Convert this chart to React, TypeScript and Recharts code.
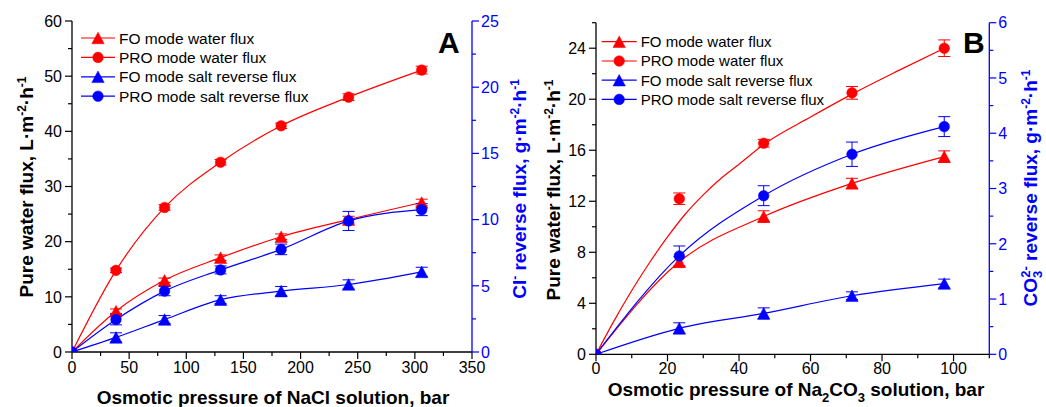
import React from 'react';
import { ComposedChart, Line, XAxis, YAxis, ErrorBar } from 'recharts';

const FONT = '"Liberation Sans", Arial, Helvetica, sans-serif';
const RED = '#ff0000';
const BLUE = '#0000ff';
const BLACK = '#000000';

// ---------- Panel A (NaCl) ----------
const xA = [0, 38.5, 81, 130, 183, 242, 306];
const foWaterA = [0, 7.4, 13.0, 17.1, 20.9, 24.0, 27.1];
const foWaterErrA = [0, 0.4, 0.4, 0.5, 0.5, 0.6, 0.6];
const proWaterA = [0, 14.8, 26.2, 34.4, 41.0, 46.2, 51.1];
const proWaterErrA = [0, 0.4, 0.5, 0.5, 0.5, 0.6, 0.7];
const foSaltA = [0, 1.1, 2.45, 3.95, 4.6, 5.1, 6.05];
const foSaltErrA = [0, 0.35, 0.3, 0.3, 0.35, 0.35, 0.35];
const proSaltA = [0, 2.45, 4.6, 6.2, 7.75, 9.9, 10.75];
const proSaltErrA = [0, 0.4, 0.35, 0.3, 0.4, 0.72, 0.45];

const ticksXA = [0, 25, 50, 75, 100, 125, 150, 175, 200, 225, 250, 275, 300, 325, 350];
const majorXA = [0, 50, 100, 150, 200, 250, 300, 350];
const ticksYLA = [0, 5, 10, 15, 20, 25, 30, 35, 40, 45, 50, 55, 60];
const majorYLA = [0, 10, 20, 30, 40, 50, 60];
const ticksYRA = [0, 2.5, 5, 7.5, 10, 12.5, 15, 17.5, 20, 22.5, 25];
const majorYRA = [0, 5, 10, 15, 20, 25];

// ---------- Panel B (Na2CO3) ----------
const xB = [0, 23.3, 46.9, 71.6, 97.4];
const foWaterB = [0, 7.25, 10.8, 13.4, 15.5];
const foWaterErrB = [0, 0.4, 0.45, 0.4, 0.45];
const proWaterB = [0, 12.2, 16.55, 20.5, 24.0];
const proWaterErrB = [0, 0.45, 0.3, 0.5, 0.65];
const proFitXB = [0, 5, 10, 15, 20, 25, 30, 35, 40, 46.9, 60, 71.6, 85, 97.4];
const proFitYB = [0, 2.6, 5.0, 7.2, 9.2, 11.0, 12.5, 13.8, 14.9, 16.45, 18.6, 20.4, 22.3, 24.0];
const foSaltB = [0, 0.47, 0.74, 1.06, 1.28];
const foSaltErrB = [0, 0.1, 0.1, 0.07, 0.08];
const proSaltB = [0, 1.78, 2.87, 3.62, 4.12];
const proSaltErrB = [0, 0.18, 0.18, 0.22, 0.18];

const ticksXB = [0, 10, 20, 30, 40, 50, 60, 70, 80, 90, 100, 110];
const majorXB = [0, 20, 40, 60, 80, 100];
const ticksYLB = [0, 2, 4, 6, 8, 10, 12, 14, 16, 18, 20, 22, 24, 26];
const majorYLB = [0, 4, 8, 12, 16, 20, 24];
const ticksYRB = [0, 0.5, 1, 1.5, 2, 2.5, 3, 3.5, 4, 4.5, 5, 5.5, 6];
const majorYRB = [0, 1, 2, 3, 4, 5, 6];

const legendNames = ['FO mode water flux', 'PRO mode water flux', 'FO mode salt reverse flux', 'PRO mode salt reverse flux'];
const legendColors = [RED, RED, BLUE, BLUE];
const legendShapes = ['triangle', 'circle', 'triangle', 'circle'];

const toSeries = (xs: number[], ys: number[], es?: number[]) =>
  xs.map((x, i) => ({ x, y: ys[i], e: es ? es[i] : 0 }));

function Marker({ shape, cx, cy, color }: { shape: string; cx: number; cy: number; color: string }) {
  if (shape === 'triangle') {
    const w = 6.2;
    const h = 5.8;
    return <polygon points={`${cx},${cy - h} ${cx - w},${cy + h} ${cx + w},${cy + h}`} fill={color} stroke={color} strokeWidth={0.5} />;
  }
  return <circle cx={cx} cy={cy} r={5.3} fill={color} stroke={color} strokeWidth={0.5} />;
}

const dotFn = (shape: string, color: string) => (props: any) => {
  const { cx, cy, index } = props;
  if (cx == null || cy == null) return <g key={`d${index}`} />;
  return (
    <g key={`d${shape}${index}`}>
      <Marker shape={shape} cx={cx} cy={cy} color={color} />
    </g>
  );
};

const isMajor = (majors: number[], v: number) => majors.some((m) => Math.abs(m - v) < 1e-9);

const makeTick = (orient: string, majors: number[], color: string, labels: boolean, labelGap = 21) => (props: any) => {
  const { x, y, payload, index } = props;
  const v = payload.value;
  const major = isMajor(majors, v);
  const len = major ? 7 : 4;
  const sw = 1.2;
  let line: any = null;
  let text: any = null;
  if (orient === 'left') {
    line = <line x1={x - len} y1={y} x2={x} y2={y} stroke={color} strokeWidth={sw} />;
    if (labels && major)
      text = (
        <text x={x - 10} y={y} dy="0.36em" textAnchor="end" fontSize={16} fontFamily={FONT} fill={color}>
          {v}
        </text>
      );
  } else if (orient === 'right') {
    line = <line x1={x} y1={y} x2={x + len} y2={y} stroke={color} strokeWidth={sw} />;
    if (labels && major)
      text = (
        <text x={x + 9} y={y} dy="0.36em" textAnchor="start" fontSize={16} fontFamily={FONT} fill={color}>
          {v}
        </text>
      );
  } else if (orient === 'bottom') {
    line = <line x1={x} y1={y} x2={x} y2={y + len} stroke={color} strokeWidth={sw} />;
    if (labels && major)
      text = (
        <text x={x} y={y + labelGap} textAnchor="middle" fontSize={16} fontFamily={FONT} fill={color}>
          {v}
        </text>
      );
  } else {
    line = <line x1={x} y1={y} x2={x} y2={y + len} stroke={color} strokeWidth={sw} />;
  }
  return (
    <g key={`t${orient}${index}`}>
      {line}
      {text}
    </g>
  );
};

function Legend4({ lineX1, lineX2, textX, rowY, fontSize }: { lineX1: number; lineX2: number; textX: number; rowY: number[]; fontSize: number }) {
  const mx = (lineX1 + lineX2) / 2;
  return (
    <g>
      {legendNames.map((name, i) => (
        <g key={name}>
          <line x1={lineX1} y1={rowY[i]} x2={lineX2} y2={rowY[i]} stroke={legendColors[i]} strokeWidth={1.2} />
          <Marker shape={legendShapes[i]} cx={mx} cy={rowY[i]} color={legendColors[i]} />
          <text x={textX} y={rowY[i]} dy="0.36em" fontSize={fontSize} fontFamily={FONT} fill={BLACK}>
            {name}
          </text>
        </g>
      ))}
    </g>
  );
}

const lineProps = { type: 'monotone' as const, strokeWidth: 1.2, isAnimationActive: false, activeDot: false as const };
const ebProps = { dataKey: 'e', width: 6, strokeWidth: 1, direction: 'y' as const };

function PanelA() {
  return (
    <ComposedChart width={545} height={407} margin={{ top: 21, right: 25, bottom: 0, left: 0 }}>
      <XAxis xAxisId="b" dataKey="x" type="number" domain={[0, 350]} ticks={ticksXA} interval={0} height={55}
        tickSize={0} tickMargin={0} tickLine={false} axisLine={{ stroke: BLACK, strokeWidth: 1.3 }}
        tick={makeTick('bottom', majorXA, BLACK, true, 21)} allowDataOverflow />
      <XAxis xAxisId="t" orientation="top" dataKey="x" type="number" domain={[0, 350]} ticks={ticksXA} interval={0} height={0}
        tickSize={0} tickMargin={0} tickLine={false} axisLine={{ stroke: BLACK, strokeWidth: 1.3 }}
        tick={makeTick('top', majorXA, BLACK, false)} allowDataOverflow />
      <YAxis yAxisId="l" type="number" domain={[0, 60]} ticks={ticksYLA} interval={0} width={72}
        tickSize={0} tickMargin={0} tickLine={false} axisLine={{ stroke: BLACK, strokeWidth: 1.3 }}
        tick={makeTick('left', majorYLA, BLACK, true)} allowDataOverflow />
      <YAxis yAxisId="r" orientation="right" type="number" domain={[0, 25]} ticks={ticksYRA} interval={0} width={48}
        tickSize={0} tickMargin={0} tickLine={false} axisLine={{ stroke: BLUE, strokeWidth: 1.3 }}
        tick={makeTick('right', majorYRA, BLUE, true)} allowDataOverflow />

      <Line {...lineProps} xAxisId="b" yAxisId="l" data={toSeries(xA, foWaterA, foWaterErrA)} dataKey="y" stroke={RED} dot={dotFn('triangle', RED)}>
        <ErrorBar {...ebProps} stroke={RED} />
      </Line>
      <Line {...lineProps} xAxisId="b" yAxisId="l" data={toSeries(xA, proWaterA, proWaterErrA)} dataKey="y" stroke={RED} dot={dotFn('circle', RED)}>
        <ErrorBar {...ebProps} stroke={RED} />
      </Line>
      <Line {...lineProps} xAxisId="b" yAxisId="r" data={toSeries(xA, foSaltA, foSaltErrA)} dataKey="y" stroke={BLUE} dot={dotFn('triangle', BLUE)}>
        <ErrorBar {...ebProps} stroke={BLUE} />
      </Line>
      <Line {...lineProps} xAxisId="b" yAxisId="r" data={toSeries(xA, proSaltA, proSaltErrA)} dataKey="y" stroke={BLUE} dot={dotFn('circle', BLUE)}>
        <ErrorBar {...ebProps} stroke={BLUE} />
      </Line>

      <Legend4 lineX1={81} lineX2={115} textX={119} rowY={[38, 57.4, 76.8, 96.2]} fontSize={15.5} />
      <text x={438} y={53} fontSize={30} fontWeight="bold" fontFamily={FONT} fill={BLACK}>A</text>

      <text x={273} y={404} textAnchor="middle" fontSize={19} fontWeight="bold" fontFamily={FONT} fill={BLACK}>
        Osmotic pressure of NaCl solution, bar
      </text>
      <text transform="translate(33,187) rotate(-90)" textAnchor="middle" fontSize={19} fontWeight="bold" fontFamily={FONT} fill={BLACK}>
        Pure water flux, L·m<tspan dy={-7} fontSize={12}>-2</tspan><tspan dy={7}>·h</tspan><tspan dy={-7} fontSize={12}>-1</tspan>
      </text>
      <text transform="translate(526,189) rotate(-90)" textAnchor="middle" fontSize={19} fontWeight="bold" fontFamily={FONT} fill={BLUE}>
        Cl<tspan dy={-7} fontSize={12}>-</tspan><tspan dy={7}> reverse flux, g·m</tspan><tspan dy={-7} fontSize={12}>-2</tspan><tspan dy={7}>·h</tspan><tspan dy={-7} fontSize={12}>-1</tspan>
      </text>
    </ComposedChart>
  );
}

function PanelB() {
  return (
    <ComposedChart width={526} height={407} margin={{ top: 22.7, right: 0, bottom: 0, left: 0 }}>
      <XAxis xAxisId="b" dataKey="x" type="number" domain={[0, 110]} ticks={ticksXB} interval={0} height={52.7}
        tickSize={0} tickMargin={0} tickLine={false} axisLine={{ stroke: BLACK, strokeWidth: 1.3 }}
        tick={makeTick('bottom', majorXB, BLACK, true, 20)} allowDataOverflow />
      <XAxis xAxisId="t" orientation="top" dataKey="x" type="number" domain={[0, 110]} ticks={ticksXB} interval={0} height={0}
        tickSize={0} tickMargin={0} tickLine={false} axisLine={{ stroke: BLACK, strokeWidth: 1.3 }}
        tick={makeTick('top', majorXB, BLACK, false)} allowDataOverflow />
      <YAxis yAxisId="l" type="number" domain={[0, 26]} ticks={ticksYLB} interval={0} width={76}
        tickSize={0} tickMargin={0} tickLine={false} axisLine={{ stroke: BLACK, strokeWidth: 1.3 }}
        tick={makeTick('left', majorYLB, BLACK, true)} allowDataOverflow />
      <YAxis yAxisId="r" orientation="right" type="number" domain={[0, 6]} ticks={ticksYRB} interval={0} width={56.7}
        tickSize={0} tickMargin={0} tickLine={false} axisLine={{ stroke: BLUE, strokeWidth: 1.3 }}
        tick={makeTick('right', majorYRB, BLUE, true)} allowDataOverflow />

      <Line {...lineProps} xAxisId="b" yAxisId="l" data={toSeries(xB, foWaterB, foWaterErrB)} dataKey="y" stroke={RED} dot={dotFn('triangle', RED)}>
        <ErrorBar {...ebProps} stroke={RED} />
      </Line>
      <Line {...lineProps} xAxisId="b" yAxisId="l" data={toSeries(proFitXB, proFitYB)} dataKey="y" stroke={RED} dot={false} />
      <Line {...lineProps} xAxisId="b" yAxisId="l" data={toSeries(xB, proWaterB, proWaterErrB)} dataKey="y" stroke="none" dot={dotFn('circle', RED)}>
        <ErrorBar {...ebProps} stroke={RED} />
      </Line>
      <Line {...lineProps} xAxisId="b" yAxisId="r" data={toSeries(xB, foSaltB, foSaltErrB)} dataKey="y" stroke={BLUE} dot={dotFn('triangle', BLUE)}>
        <ErrorBar {...ebProps} stroke={BLUE} />
      </Line>
      <Line {...lineProps} xAxisId="b" yAxisId="r" data={toSeries(xB, proSaltB, proSaltErrB)} dataKey="y" stroke={BLUE} dot={dotFn('circle', BLUE)}>
        <ErrorBar {...ebProps} stroke={BLUE} />
      </Line>

      <Legend4 lineX1={81.7} lineX2={116.7} textX={120.7} rowY={[41.7, 61, 80.2, 99.4]} fontSize={15} />
      <text x={443} y={53} fontSize={30} fontWeight="bold" fontFamily={FONT} fill={BLACK}>B</text>

      <text x={276} y={396} textAnchor="middle" fontSize={19} fontWeight="bold" fontFamily={FONT} fill={BLACK}>
        Osmotic pressure of Na<tspan dy={6} fontSize={13}>2</tspan><tspan dy={-6}>CO</tspan><tspan dy={6} fontSize={13}>3</tspan><tspan dy={-6}> solution, bar</tspan>
      </text>
      <text transform="translate(40,190) rotate(-90)" textAnchor="middle" fontSize={19} fontWeight="bold" fontFamily={FONT} fill={BLACK}>
        Pure water flux, L·m<tspan dy={-7} fontSize={12}>-2</tspan><tspan dy={7}>·h</tspan><tspan dy={-7} fontSize={12}>-1</tspan>
      </text>
      <text transform="translate(517,188) rotate(-90)" textAnchor="middle" fontSize={19} fontWeight="bold" fontFamily={FONT} fill={BLUE}>
        CO<tspan dy={5} fontSize={13}>3</tspan><tspan dy={-12} dx={-7} fontSize={13}>2-</tspan><tspan dy={7}> reverse flux, g·m</tspan><tspan dy={-7} fontSize={12}>-2</tspan><tspan dy={7}>·h</tspan><tspan dy={-7} fontSize={12}>-1</tspan>
      </text>
    </ComposedChart>
  );
}

export default function App() {
  return (
    <div style={{ position: 'absolute', left: 0, top: 0, width: 1046, height: 407, background: '#fff', overflow: 'hidden' }}>
      <div style={{ position: 'absolute', left: 0, top: 0 }}>
        <PanelA />
      </div>
      <div style={{ position: 'absolute', left: 520, top: 0 }}>
        <PanelB />
      </div>
    </div>
  );
}
